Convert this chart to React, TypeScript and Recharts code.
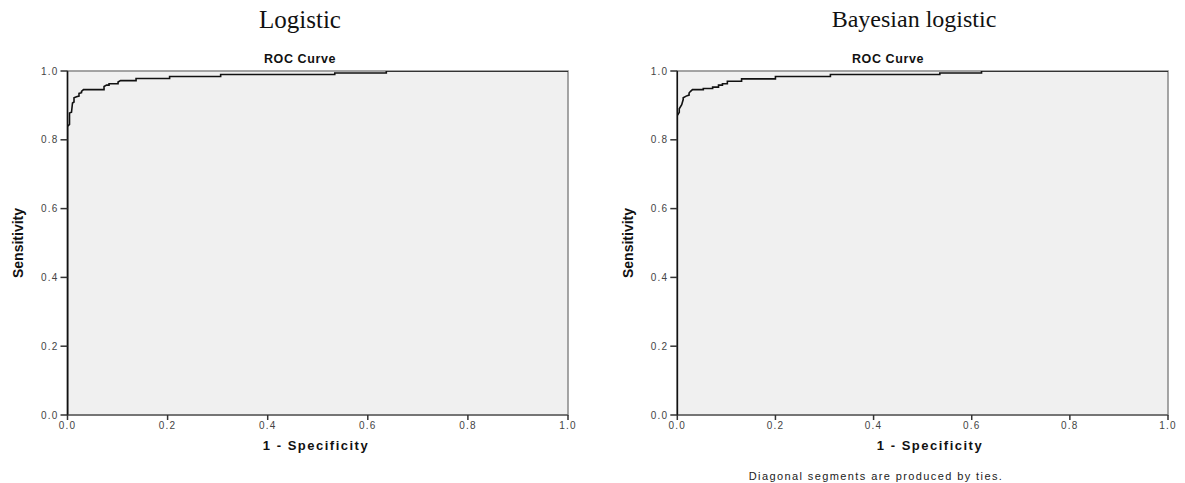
import React from "react";
import { LineChart, Line, XAxis, YAxis, ReferenceArea } from "recharts";

const axisTicks = [0, 0.2, 0.4, 0.6, 0.8, 1.0];

const logisticFpr = [0, 0, 0.004, 0.004, 0.008, 0.01, 0.013, 0.013, 0.018, 0.023, 0.023, 0.028, 0.028, 0.032, 0.073, 0.073, 0.078, 0.083, 0.083, 0.101, 0.101, 0.106, 0.137, 0.137, 0.204, 0.204, 0.306, 0.306, 0.534, 0.534, 0.637, 0.637, 1.0];
const logisticTpr = [0, 0.839, 0.845, 0.878, 0.88, 0.907, 0.91, 0.922, 0.925, 0.927, 0.935, 0.937, 0.941, 0.946, 0.946, 0.955, 0.959, 0.959, 0.963, 0.963, 0.968, 0.972, 0.972, 0.978, 0.978, 0.984, 0.984, 0.99, 0.99, 0.994, 0.994, 1.0, 1.0];

const bayesFpr = [0, 0, 0.004, 0.004, 0.009, 0.012, 0.012, 0.018, 0.024, 0.024, 0.027, 0.031, 0.053, 0.053, 0.072, 0.072, 0.084, 0.084, 0.092, 0.092, 0.102, 0.102, 0.131, 0.131, 0.2, 0.2, 0.312, 0.312, 0.535, 0.535, 0.62, 0.62, 1.0];
const bayesTpr = [0, 0.87, 0.88, 0.89, 0.902, 0.917, 0.922, 0.927, 0.93, 0.936, 0.941, 0.946, 0.946, 0.949, 0.949, 0.953, 0.953, 0.959, 0.959, 0.963, 0.963, 0.97, 0.97, 0.977, 0.977, 0.984, 0.984, 0.99, 0.99, 0.994, 0.994, 1.0, 1.0];

const build = (xs: number[], ys: number[]) => xs.map((x, i) => ({ fpr: x, tpr: ys[i] }));
const logisticData = build(logisticFpr, logisticTpr);
const bayesData = build(bayesFpr, bayesTpr);

const sans = "'Liberation Sans', Arial, sans-serif";
const tickStyle = { fontSize: 10, fill: "#444", fontFamily: sans, letterSpacing: 1.2 };

function Roc({ data, width, height, marginLeft, marginRight }: { data: any[]; width: number; height: number; marginLeft: number; marginRight: number }) {
  return (
    <LineChart width={width} height={height} data={data} margin={{ top: 71, right: marginRight, bottom: 38, left: marginLeft }}>
      <XAxis
        type="number"
        dataKey="fpr"
        domain={[0, 1]}
        ticks={axisTicks}
        tickFormatter={(v: number) => v.toFixed(1)}
        tick={tickStyle}
        tickSize={5}
        tickMargin={2}
        height={30}
        stroke="#555"
        axisLine={{ stroke: "#666", strokeWidth: 1.5 }}
        tickLine={{ stroke: "#333", strokeWidth: 1.5 }}
        allowDataOverflow
      />
      <YAxis
        type="number"
        domain={[0, 1]}
        ticks={axisTicks}
        tickFormatter={(v: number) => v.toFixed(1)}
        tick={tickStyle}
        tickSize={7}
        tickMargin={2}
        width={40}
        axisLine={{ stroke: "#111", strokeWidth: 1.5 }}
        tickLine={{ stroke: "#333", strokeWidth: 1.5 }}
        allowDataOverflow
      />
      <ReferenceArea x1={0} x2={1} y1={0} y2={1} fill="#f0f0f0" fillOpacity={1} stroke="#888" strokeWidth={1.5} />
      <Line type="linear" dataKey="tpr" stroke="#111" strokeWidth={1.6} dot={false} activeDot={false} isAnimationActive={false} />
    </LineChart>
  );
}

const abs = (s: React.CSSProperties): React.CSSProperties => ({ position: "absolute", whiteSpace: "nowrap", ...s });

export default function App() {
  const serif = "'Liberation Serif', 'Times New Roman', serif";
  return (
    <div style={{ position: "absolute", left: 0, top: 0, width: 1185, height: 483, background: "#fff", overflow: "hidden" }}>
      <div style={abs({ left: 0, top: 0 })}>
        <Roc data={logisticData} width={590} height={483} marginLeft={27.5} marginRight={22} />
      </div>
      <div style={abs({ left: 600, top: 0 })}>
        <Roc data={bayesData} width={585} height={483} marginLeft={37.3} marginRight={17} />
      </div>

      <div style={abs({ left: 300, top: 6, transform: "translateX(-50%)", fontFamily: serif, fontSize: 25, color: "#111" })}>Logistic</div>
      <div style={abs({ left: 914, top: 6, transform: "translateX(-50%)", fontFamily: serif, fontSize: 24, color: "#111" })}>Bayesian logistic</div>

      <div style={abs({ left: 300, top: 52, transform: "translateX(-50%)", fontFamily: sans, fontWeight: "bold", fontSize: 12.5, letterSpacing: 0.6, color: "#111" })}>ROC Curve</div>
      <div style={abs({ left: 888, top: 52, transform: "translateX(-50%)", fontFamily: sans, fontWeight: "bold", fontSize: 12.5, letterSpacing: 0.6, color: "#111" })}>ROC Curve</div>

      <div style={abs({ left: 316, top: 438, transform: "translateX(-50%)", fontFamily: sans, fontWeight: "bold", fontSize: 13, letterSpacing: 1.5, color: "#111" })}>1 - Specificity</div>
      <div style={abs({ left: 930, top: 438, transform: "translateX(-50%)", fontFamily: sans, fontWeight: "bold", fontSize: 13, letterSpacing: 1.5, color: "#111" })}>1 - Specificity</div>

      <div style={abs({ left: 18, top: 243, transform: "translate(-50%, -50%) rotate(-90deg)", fontFamily: "'Liberation Sans Narrow', " + sans, fontWeight: "bold", fontSize: 14, color: "#111" })}>Sensitivity</div>
      <div style={abs({ left: 628, top: 243, transform: "translate(-50%, -50%) rotate(-90deg)", fontFamily: "'Liberation Sans Narrow', " + sans, fontWeight: "bold", fontSize: 14, color: "#111" })}>Sensitivity</div>

      <div style={abs({ left: 876, top: 470, transform: "translateX(-50%)", fontFamily: sans, fontSize: 11, letterSpacing: 1.4, color: "#222" })}>Diagonal segments are produced by ties.</div>
    </div>
  );
}
